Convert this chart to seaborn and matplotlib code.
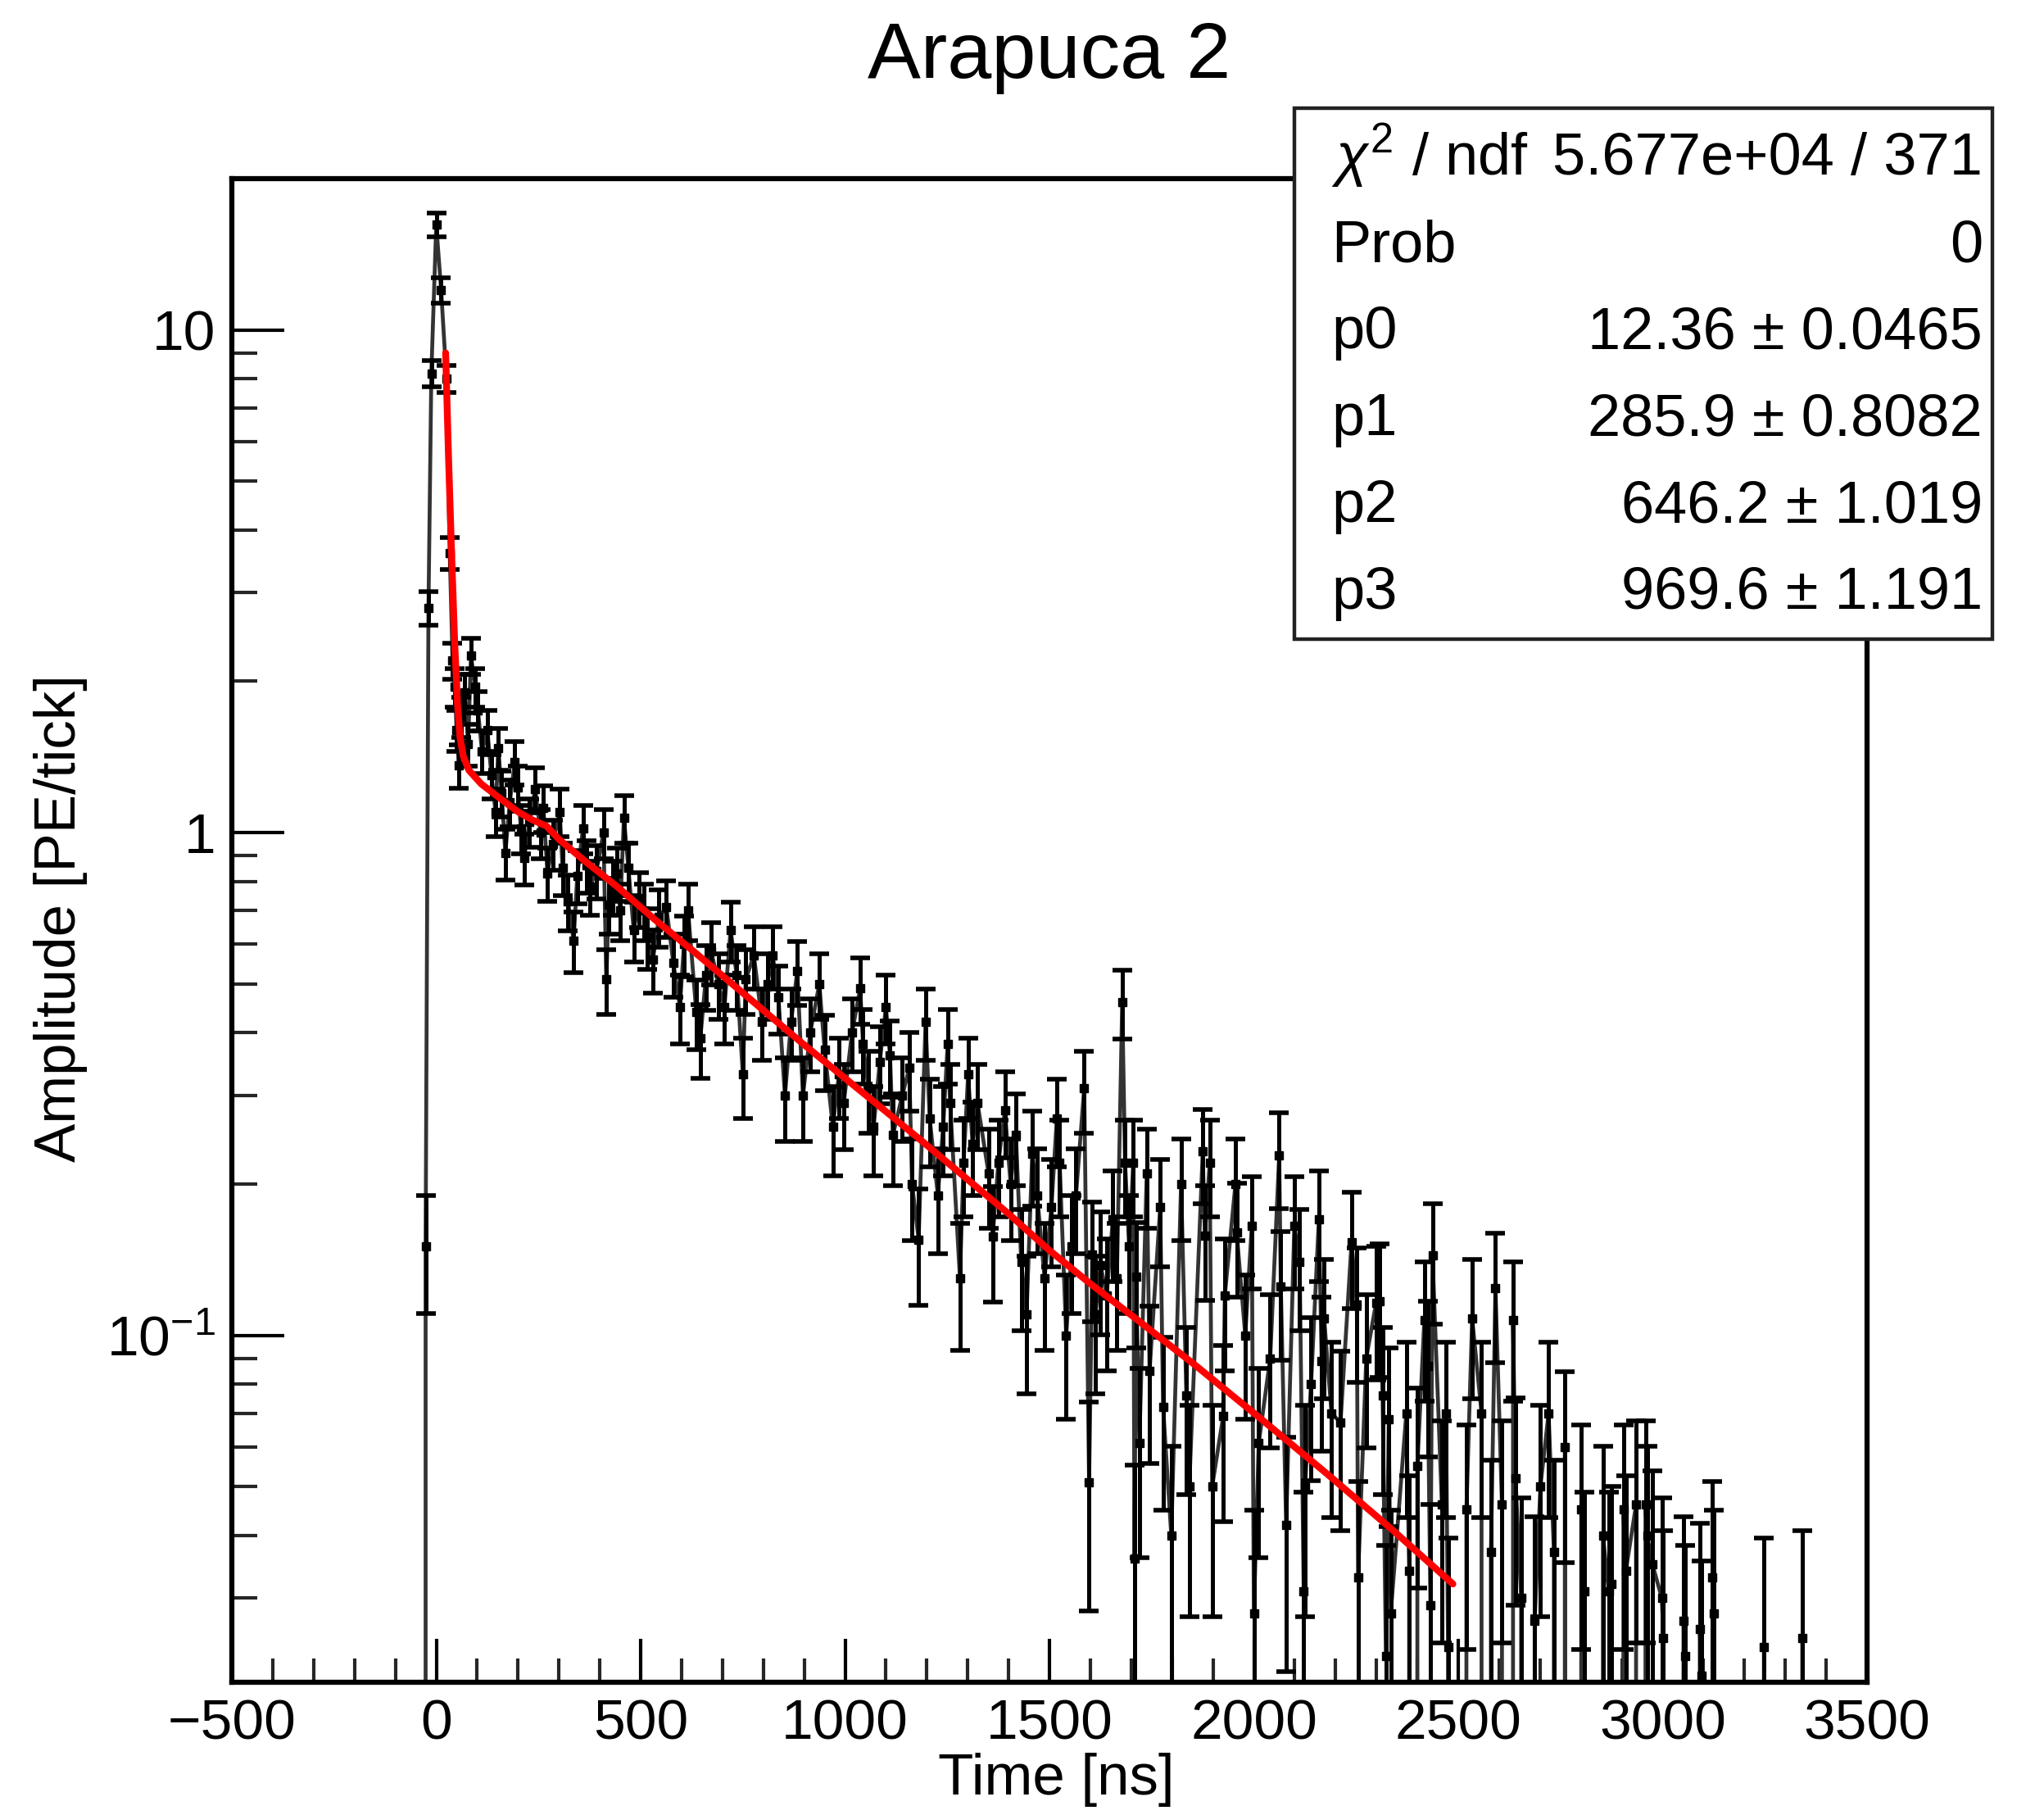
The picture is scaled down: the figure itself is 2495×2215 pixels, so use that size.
import numpy as np
import pandas as pd
import matplotlib
matplotlib.use("Agg")
import matplotlib.pyplot as plt
import seaborn as sns
from matplotlib.patches import Rectangle
from matplotlib.ticker import MultipleLocator, FixedLocator, LogLocator, NullFormatter, FixedFormatter

sns.set_theme(style="white")
plt.rcParams["font.family"] = ["Liberation Sans", "DejaVu Sans"]
plt.rcParams["mathtext.fontset"] = "custom"
plt.rcParams["mathtext.rm"] = "Liberation Sans"
plt.rcParams["mathtext.it"] = "Liberation Sans:italic"
plt.rcParams["mathtext.bf"] = "Liberation Sans:bold"
plt.rcParams["axes.unicode_minus"] = True

# ---------------- data ----------------
title = "Arapuca 2"
x_label = "Time [ns]"
y_label = "Amplitude [PE/tick]"

# 0 = bin below the visible range (line drops off the bottom of the frame)
time_ns = [
    -33, -26, -19, -12, 0, 12, 25, 33, 40, 45, 50, 55, 62, 70, 78, 85, 95, 102, 112, 125,
    135, 145, 152, 160, 169, 180, 192, 199, 207, 215, 228, 242, 255, 262, 272, 285, 302, 309, 322, 336,
    345, 359, 368, 376, 392, 409, 416, 422, 432, 442, 450, 459, 470, 483, 496, 509, 516, 530, 545, 563,
    580, 596, 606, 616, 636, 646, 660, 673, 690, 705, 720, 735, 750, 757, 777, 797, 810, 823, 837, 853,
    868, 883, 897, 915, 937, 950, 970, 985, 997, 1017, 1037, 1044, 1057, 1070, 1085, 1100, 1110, 1117, 1140, 1157,
    1164, 1180, 1197, 1207, 1227, 1240, 1251, 1257, 1281, 1290, 1301, 1312, 1324, 1351, 1361, 1375, 1391, 1405, 1418, 1431,
    1444, 1458, 1470, 1488, 1505, 1518, 1525, 1541, 1555, 1565, 1585, 1597, 1605, 1612, 1625, 1640, 1655, 1665, 1678, 1685,
    1695, 1705, 1708, 1712, 1720, 1738, 1745, 1771, 1778, 1798, 1822, 1835, 1842, 1875, 1880, 1892, 1898, 1925, 1929, 1955,
    1958, 1979, 1995, 2000, 2012, 2040, 2062, 2066, 2079, 2099, 2112, 2122, 2125, 2140, 2159, 2166, 2172, 2190, 2212, 2239,
    2252, 2255, 2275, 2299, 2307, 2315, 2323, 2330, 2335, 2373, 2380, 2392, 2400, 2417, 2425, 2432, 2437, 2460, 2470, 2475,
    2485, 2520, 2534, 2557, 2570, 2580, 2591, 2607, 2620, 2634, 2640, 2654, 2670, 2687, 2701, 2721, 2734, 2745, 2761, 2780,
    2801, 2808, 2825, 2854, 2868, 2874, 2885, 2904, 2910, 2935, 2945, 2958, 2962, 2975, 2998, 3002, 3020, 3051, 3055, 3070,
    3091, 3095, 3110, 3122, 3126, 3140, 3240, 3248, 3265, 3330, 3342, 3360,
]
amplitude = [
    0, 0.15, 2.8, 8.2, 16.2, 12.0, 8.0, 3.6, 2.2, 1.95, 1.6, 1.36, 1.7, 1.9, 1.5, 2.25, 1.95, 1.75, 1.45, 1.6,
    1.3, 1.1, 1.47, 1.2, 0.91, 1.15, 1.38, 1.23, 1.02, 0.89, 1.05, 1.22, 1.0, 1.12, 0.83, 0.95, 1.1, 0.85, 0.73, 0.61,
    0.82, 1.02, 0.86, 0.78, 0.84, 1.0, 0.51, 0.72, 0.78, 0.83, 0.70, 1.07, 0.85, 0.64, 0.74, 0.70, 0.62, 0.56, 0.68, 0.71,
    0.55, 0.45, 0.60, 0.70, 0.44, 0.39, 0.52, 0.58, 0.50, 0.45, 0.64, 0.52, 0.33, 0.51, 0.57, 0.42, 0.50, 0.57, 0.47, 0.30,
    0.42, 0.53, 0.30, 0.40, 0.50, 0.37, 0.26, 0.33, 0.29, 0.40, 0.49, 0.38, 0.31, 0.26, 0.35, 0.45, 0.36, 0.25, 0.30, 0.34,
    0.20, 0.155, 0.42, 0.27, 0.19, 0.26, 0.38, 0.29, 0.13, 0.22, 0.33, 0.24, 0.29, 0.21, 0.157, 0.22, 0.28, 0.20, 0.25, 0.14,
    0.11, 0.23, 0.19, 0.13, 0.18, 0.27, 0.22, 0.10, 0.15, 0.19, 0.31, 0.051, 0.145, 0.11, 0.138, 0.12, 0.17, 0.13, 0.46, 0.22,
    0.15, 0.22, 0.036, 0.131, 0.061, 0.21, 0.085, 0.18, 0.072, 0.040, 0.20, 0.076, 0.050, 0.232, 0.158, 0.22, 0.050, 0.069, 0.12, 0.20,
    0.16, 0.10, 0.165, 0.028, 0.061, 0.09, 0.228, 0.125, 0.042, 0.165, 0.14, 0.031, 0.050, 0.08, 0.17, 0.089, 0.108, 0.07, 0.067, 0.153,
    0.115, 0.033, 0.09, 0.116, 0.117, 0.076, 0.023, 0.068, 0.028, 0.07, 0.034, 0, 0.055, 0.107, 0.087, 0.029, 0.144, 0.046, 0.07, 0.024,
    0, 0.045, 0.108, 0.070, 0, 0.037, 0.124, 0.046, 0, 0.107, 0.052, 0.030, 0, 0.027, 0.050, 0.07, 0.037, 0, 0.060, 0,
    0.045, 0.031, 0, 0.040, 0.031, 0.032, 0, 0.045, 0.034, 0.046, 0, 0.046, 0.040, 0.035, 0.030, 0.025, 0, 0.027, 0.023, 0,
    0.026, 0.021, 0, 0.033, 0.028, 0, 0, 0.024, 0, 0, 0.025, 0,
]

fit_time_ns = [23, 30, 37, 45, 52, 58, 66, 80, 110, 150, 200, 235, 270, 300, 362, 443, 536, 630,
               763, 897, 1030, 1097, 1197, 1297, 1398, 1498, 1598, 1698, 1858, 2019, 2179, 2339, 2487]
fit_amplitude = [9.0, 5.6, 3.7, 2.4, 1.8, 1.55, 1.42, 1.33, 1.25, 1.18, 1.10, 1.06, 1.03, 0.97, 0.88, 0.78, 0.67, 0.58,
                 0.47, 0.38, 0.31, 0.28, 0.24, 0.205, 0.175, 0.148, 0.127, 0.11, 0.087, 0.068, 0.053, 0.041, 0.032]

stats_names = [r"$\chi^{2}$ / ndf", "Prob", "p0", "p1", "p2", "p3"]
stats_values = ["5.677e+04 / 371", "0", "12.36 \u00b1 0.0465", "285.9 \u00b1 0.8082",
                "646.2 \u00b1 1.019", "969.6 \u00b1 1.191"]

x_ticks = [-500, 0, 500, 1000, 1500, 2000, 2500, 3000, 3500]
y_ticks = [0.1, 1, 10]
y_tick_labels = [r"$10^{-1}$", "1", "10"]

# Poisson-like uncertainty model for the error bars
ERR_STAT = 0.10
ERR_REL = 0.05

# ---------------- figure ----------------
W, H = 2495, 2215
fig = plt.figure(figsize=(W / 100, H / 100), dpi=100)
fig.patch.set_facecolor("white")
ax_l, ax_r, ax_t, ax_b = 283, 2279, 218, 2053
ax = fig.add_axes([ax_l / W, 1 - ax_b / H, (ax_r - ax_l) / W, (ax_b - ax_t) / H])
ax.set_facecolor("white")

df = pd.DataFrame({"t": time_ns, "v": amplitude})
fit_df = pd.DataFrame({"t": fit_time_ns, "v": fit_amplitude})

# connecting line between bins
sns.lineplot(data=df, x="t", y="v", sort=False, estimator=None, color="#333333",
             linewidth=3.4, ax=ax, zorder=2)

vis = df[df["v"] > 0]
err = np.sqrt(ERR_STAT ** 2 * vis["v"] + (ERR_REL * vis["v"]) ** 2)
ax.errorbar(vis["t"], vis["v"], yerr=err, fmt="s", ms=7, color="black", ecolor="black",
            elinewidth=3.6, capsize=8.5, capthick=4.0, zorder=3)

sns.lineplot(data=fit_df, x="t", y="v", sort=False, estimator=None, color="#ff0000",
             linewidth=6.0, ax=ax, zorder=4)

ax.set_yscale("log", nonpositive="clip")
ax.set_xlim(-500, 3500)
ax.set_ylim(0.0204, 20)

ax.xaxis.set_major_locator(FixedLocator(x_ticks))
ax.xaxis.set_minor_locator(MultipleLocator(100))
ax.yaxis.set_major_locator(FixedLocator(y_ticks))
ax.yaxis.set_major_formatter(FixedFormatter(y_tick_labels))
ax.yaxis.set_minor_locator(LogLocator(base=10, subs=np.arange(2, 10)))
ax.yaxis.set_minor_formatter(NullFormatter())

ax.tick_params(axis="x", which="major", direction="in", length=38, width=3.0, labelsize=50,
               pad=14, top=False, bottom=True, colors="black")
ax.tick_params(axis="x", which="minor", direction="in", length=21, width=3.0, top=False, bottom=True)
ax.tick_params(axis="y", which="major", direction="in", length=46, width=3.0, labelsize=50,
               pad=14, left=True, right=False, colors="black")
ax.tick_params(axis="y", which="minor", direction="in", length=22, width=3.0, left=True, right=False)

for s in ax.spines.values():
    s.set_color("black")
    s.set_linewidth(4.5)

ax.set_xlabel(x_label, fontsize=51, color="black")
ax.set_ylabel(y_label, fontsize=51, color="black")
ax.xaxis.set_label_coords(0.504, -0.047)
ax.yaxis.set_label_coords(-0.088, 0.508)

fig.text(1281 / W, 1 - 95 / H, title, ha="center", va="baseline", fontsize=70, color="black")

# stats box
bx0, by0, bx1, by1 = 1580, 132, 2432, 780
box = Rectangle((bx0 / W, 1 - by1 / H), (bx1 - bx0) / W, (by1 - by0) / H, transform=fig.transFigure,
                facecolor="white", edgecolor="#222222", linewidth=3.2, zorder=10)
fig.add_artist(box)
baselines = [213, 319, 425, 531, 637, 743]
for name, val, yb in zip(stats_names, stats_values, baselines):
    t1 = fig.text(1625 / W, 1 - yb / H, name, ha="left", va="baseline", fontsize=52, color="black")
    t2 = fig.text(2420 / W, 1 - yb / H, val, ha="right", va="baseline", fontsize=52, color="black")
    t1.set_zorder(11)
    t2.set_zorder(11)

fig.savefig("out.png", dpi=100, facecolor="white")
